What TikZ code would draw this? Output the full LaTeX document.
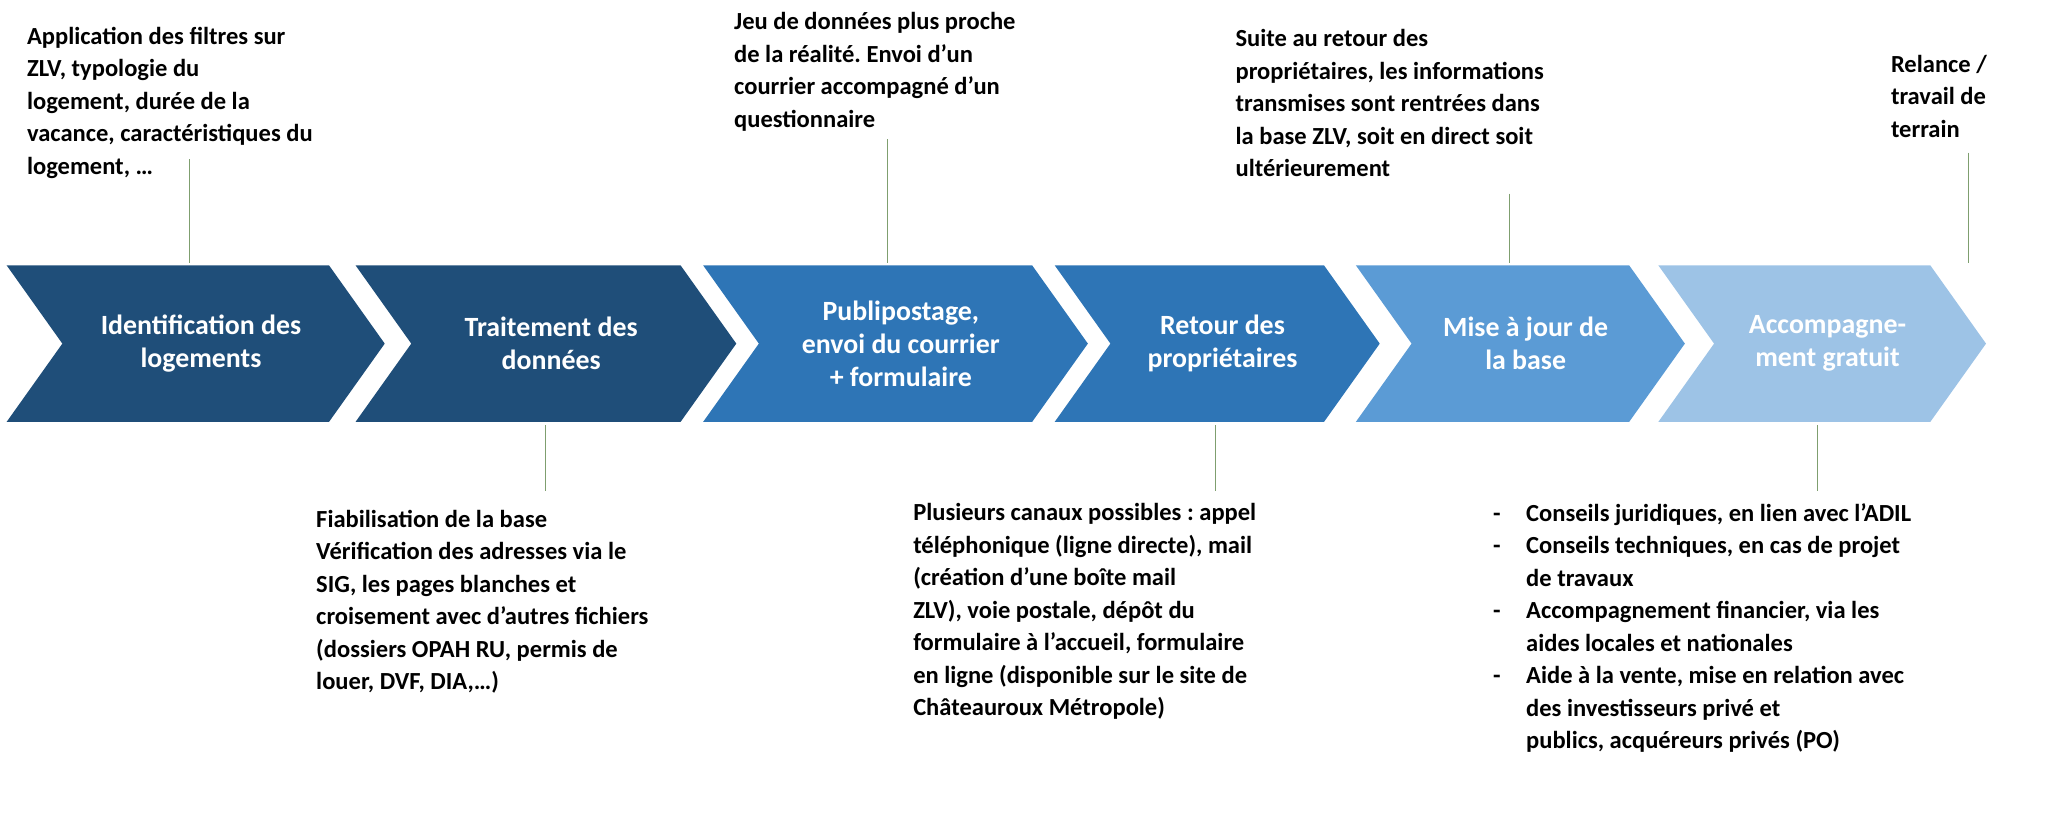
\documentclass[tikz,border=0pt]{standalone}
\usepackage{fontspec}
\setmainfont{Carlito}
\frenchspacing
\definecolor{navy}{HTML}{1F4E79}
\definecolor{midblue}{HTML}{2E75B6}
\definecolor{lightblue}{HTML}{5B9BD5}
\definecolor{paleblue}{HTML}{9DC3E6}
\definecolor{leader}{HTML}{7F9F6F}
\tikzset{every picture/.style={line width=0.75pt}}
\tikzset{
    step label/.style={font=\bfseries\fontsize{21}{25}\selectfont, text=white, align=center},
    note/.style={font=\bfseries\fontsize{18.5}{24.5}\selectfont, align=left, anchor=north west, inner sep=0pt},
    leader line/.style={draw=leader, line width=0.8pt}}
% chevron: left x, right x, colour, name, text
\newcommand{\chev}[5]{%
    \fill[#3] (#1,200) -- (#2-42,200) -- (#2,259) -- (#2-42,318) -- (#1,318) -- (#1+42,259) -- cycle;
    \node[step label] (#4) at ({(#1+#2)/2+4},259) {#5};
}
\newcommand{\itm}{\makebox[25pt][l]{-}}
\newcommand{\ind}{\hspace*{25pt}}
\begin{document}
\begin{tikzpicture}[x=1pt,y=1pt,yscale=-1,xscale=1]
            \useasboundingbox (0,0) rectangle (1549,614);
            %Chevrons
            \chev{5}{290}{navy}{ident}{Identification des\\logements}
            \chev{268}{555}{navy}{trait}{Traitement des\\données}
            \chev{530}{820}{midblue}{publi}{Publipostage,\\envoi du courrier\\+ formulaire}
            \chev{795}{1040}{midblue}{retour}{Retour des\\propriétaires}
            \chev{1022}{1270}{lightblue}{maj}{Mise à jour de\\la base}
            \chev{1250}{1497}{paleblue}{accomp}{Accompagne-\\ment gratuit}

            %Notes above
            \node[note] (nident) at (20,20) {Application des filtres sur\\ZLV, typologie du\\logement, durée de la\\vacance, caractéristiques du\\logement, …};
            \node[note] (npubli) at (553,9) {Jeu de données plus proche\\de la réalité. Envoi d’un\\courrier accompagné d’un\\questionnaire};
            \node[note] (nmaj) at (931,22) {Suite au retour des\\propriétaires, les informations\\transmises sont rentrées dans\\la base ZLV, soit en direct soit\\ultérieurement};
            \node[note] (naccomp) at (1425,41) {Relance /\\travail de\\terrain};

            %Notes below
            \node[note] (ntrait) at (238,384) {Fiabilisation de la base\\Vérification des adresses via le\\SIG, les pages blanches et\\croisement avec d’autres fichiers\\(dossiers OPAH RU, permis de\\louer, DVF, DIA,…)};
            \node[note] (nretour) at (688,379) {Plusieurs canaux possibles : appel\\téléphonique (ligne directe), mail\\(création d’une boîte mail\\ZLV), voie postale, dépôt du\\formulaire à l’accueil, formulaire\\en ligne (disponible sur le site de\\Châteauroux Métropole)};
            \node[note] (nlist) at (1125,379) {%
                \itm Conseils juridiques, en lien avec l’ADIL\\
                \itm Conseils techniques, en cas de projet\\\ind de travaux\\
                \itm Accompagnement financier, via les\\\ind aides locales et nationales\\
                \itm Aide à la vente, mise en relation avec\\\ind des investisseurs privé et\\\ind publics, acquéreurs privés (PO)};

            %Leader lines
            \coordinate (lident) at (143,120);
            \coordinate (lpubli) at (669,105);
            \coordinate (lmaj) at (1138,146);
            \coordinate (laccomp) at (1484,115);
            \draw[leader line] (lident) -- (143,198);
            \draw[leader line] (lpubli) -- (669,198);
            \draw[leader line] (lmaj) -- (1138,198);
            \draw[leader line] (laccomp) -- (1484,198);
            \coordinate (ltrait) at (411,370);
            \coordinate (lretour) at (916,370);
            \coordinate (llist) at (1370,370);
            \draw[leader line] (ltrait) -- (411,320);
            \draw[leader line] (lretour) -- (916,320);
            \draw[leader line] (llist) -- (1370,320);
\end{tikzpicture}
\end{document}
